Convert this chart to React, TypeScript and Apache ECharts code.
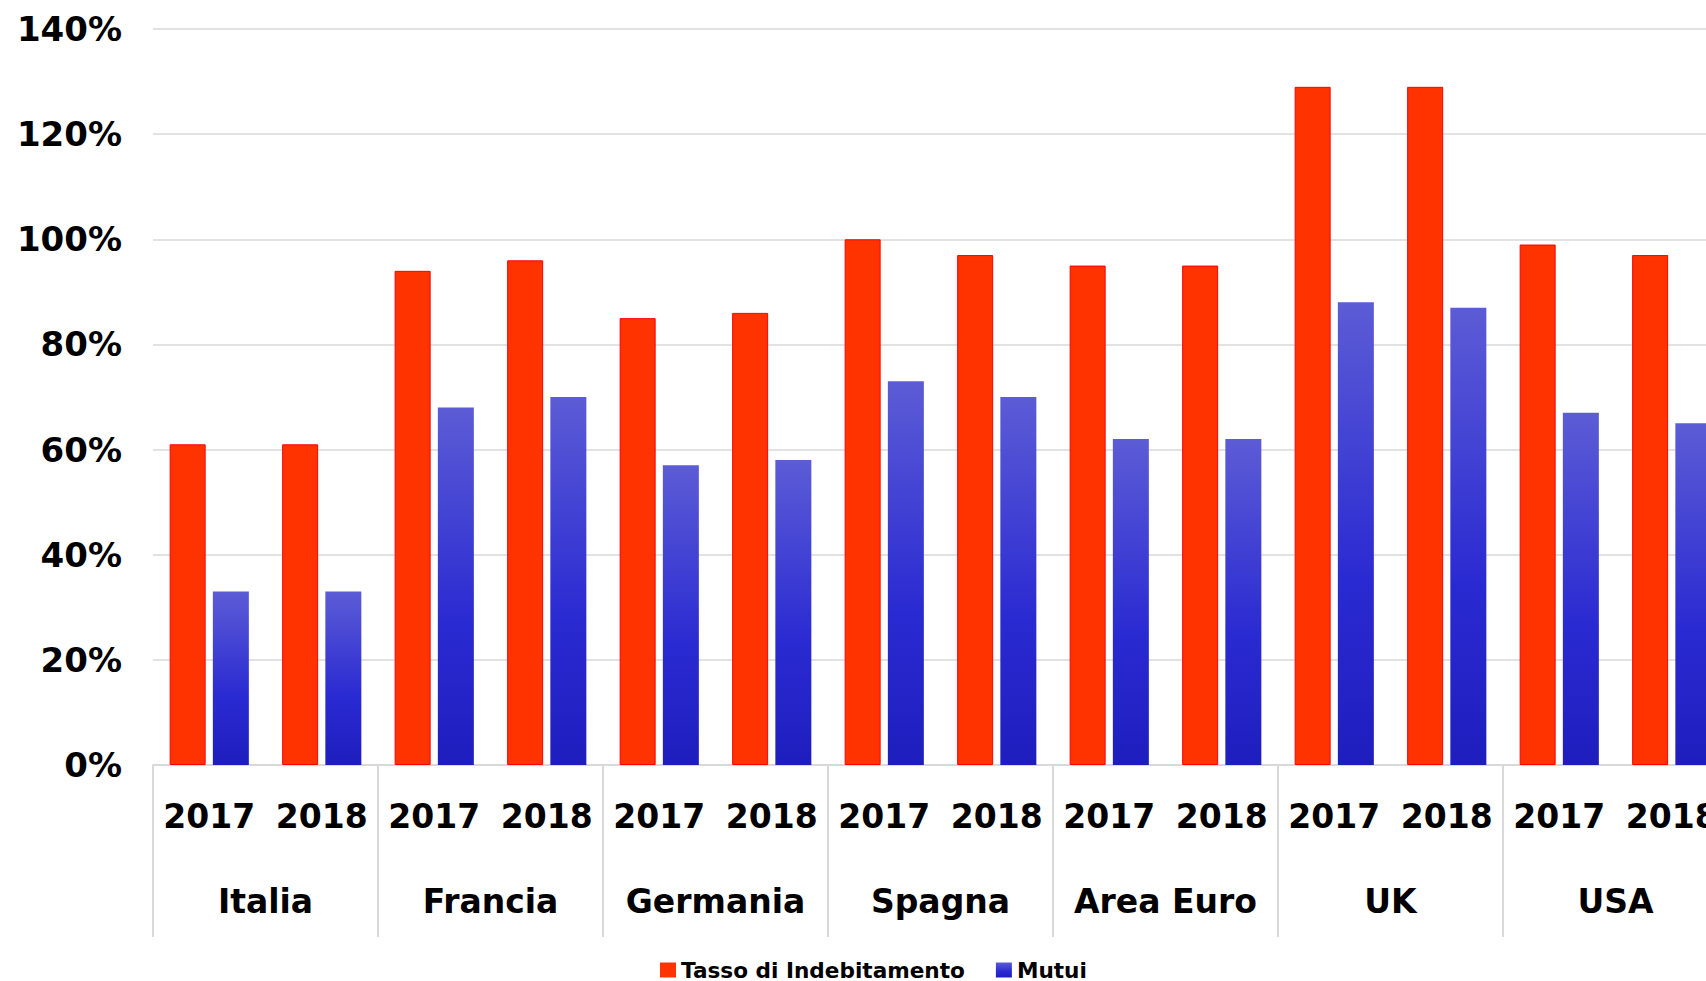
import React, { useEffect, useRef } from "react";
import * as echarts from "echarts";

const countries = ["Italia", "Francia", "Germania", "Spagna", "Area Euro", "UK", "USA"];
const years = ["2017", "2018"];
const yearCategories = countries.flatMap(() => years);
const tassoIndebitamento = [61, 61, 94, 96, 85, 86, 100, 97, 95, 95, 129, 129, 99, 97];
const mutui = [33, 33, 68, 70, 57, 58, 73, 70, 62, 62, 88, 87, 67, 65];
const yTicks = [0, 20, 40, 60, 80, 100, 120, 140];

const FONT = "'DejaVu Sans', Verdana, sans-serif";

export default function App() {
  const ref = useRef<HTMLDivElement>(null);
  useEffect(() => {
    if (!ref.current) return;
    const chart = echarts.init(ref.current, undefined, { renderer: "svg" });
    const blue = new echarts.graphic.LinearGradient(0, 0, 0, 1, [
      { offset: 0, color: "#5c5cd6" },
      { offset: 0.6, color: "#2a2ad2" },
      { offset: 1, color: "#1e1ebe" },
    ]);
    chart.setOption({
      animation: false,
      backgroundColor: "#ffffff",
      textStyle: { fontFamily: FONT },
      grid: { left: 153, top: 29, width: 1575, height: 736, containLabel: false },
      legend: {
        left: 660,
        top: 959,
        padding: 0,
        itemWidth: 16,
        itemHeight: 15,
        itemGap: 31,
        itemStyle: { borderWidth: 0 },
        textStyle: { fontFamily: FONT, fontSize: 21.6, fontWeight: "bold", color: "#000" },
        data: [
          { name: "Tasso di Indebitamento", icon: "rect" },
          { name: "Mutui", icon: "rect" },
        ],
      },
      xAxis: [
        {
          type: "category",
          data: yearCategories,
          position: "bottom",
          axisLine: { show: true, lineStyle: { color: "#d9d9d9", width: 2 } },
          axisTick: { show: false },
          splitLine: { show: false },
          axisLabel: {
            interval: 0,
            margin: 35,
            fontFamily: FONT,
            fontSize: 33,
            fontWeight: "bold",
            color: "#000",
          },
        },
        {
          type: "category",
          data: countries,
          position: "bottom",
          offset: 0,
          axisLine: { show: false },
          axisTick: { show: true, length: 172, inside: false, lineStyle: { color: "#d9d9d9", width: 2 } },
          splitLine: { show: false },
          axisLabel: {
            interval: 0,
            margin: 120,
            fontFamily: FONT,
            fontSize: 33,
            fontWeight: "bold",
            color: "#000",
          },
        },
      ],
      yAxis: {
        type: "value",
        min: yTicks[0],
        max: yTicks[yTicks.length - 1],
        interval: 20,
        axisLine: { show: false },
        axisTick: { show: false },
        splitLine: { show: true, lineStyle: { color: "#d9d9d9", width: 1.5 } },
        axisLabel: {
          margin: 31,
          formatter: "{value}%",
          fontFamily: FONT,
          fontSize: 34,
          fontWeight: "bold",
          color: "#000",
        },
      },
      series: [
        {
          name: "Tasso di Indebitamento",
          type: "bar",
          xAxisIndex: 0,
          data: tassoIndebitamento,
          barWidth: 36,
          barGap: "20%",
          itemStyle: { color: "#ff3300", borderColor: "#ff0000", borderWidth: 1 },
        },
        {
          name: "Mutui",
          type: "bar",
          xAxisIndex: 0,
          data: mutui,
          barWidth: 36,
          barGap: "20%",
          itemStyle: { color: blue },
        },
      ],
    });
    return () => chart.dispose();
  }, []);
  return (
    <div style={{ position: "absolute", left: 0, top: 0, width: 1706, height: 981, overflow: "hidden", background: "#fff" }}>
      <div ref={ref} style={{ width: 1760, height: 981 }} />
    </div>
  );
}
